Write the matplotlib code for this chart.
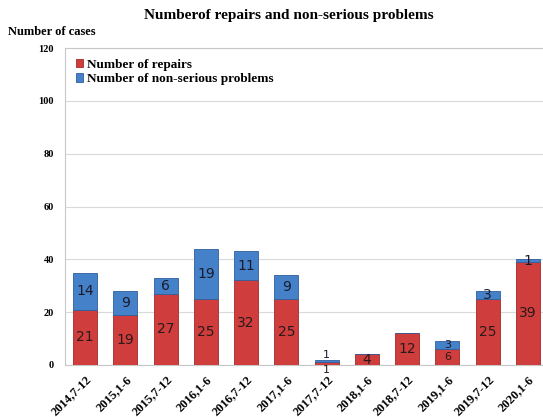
import matplotlib
matplotlib.use("Agg")
import matplotlib.pyplot as plt
import numpy as np

categories = ["2014,7-12", "2015,1-6", "2015,7-12", "2016,1-6", "2016,7-12", "2017,1-6",
              "2017,7-12", "2018,1-6", "2018,7-12", "2019,1-6", "2019,7-12", "2020,1-6"]
repairs = [21, 19, 27, 25, 32, 25, 1, 4, 12, 6, 25, 39]
non_serious = [14, 9, 6, 19, 11, 9, 1, 0, 0, 3, 3, 1]
yticks = [0, 20, 40, 60, 80, 100, 120]

serif = ["Liberation Serif", "DejaVu Serif"]
red = "#cf3d3d"
blue = "#4581c9"

fig = plt.figure(figsize=(5.43, 4.17), dpi=100)
ax = fig.add_axes([65/543, (417-365)/417, (548-65)/543, (365-48)/417])

x = np.arange(len(categories))
w = 0.6
ax.bar(x, repairs, w, color=red, edgecolor="#a52a2a", linewidth=0.6, label="Number of repairs", zorder=3)
ax.bar(x, non_serious, w, bottom=repairs, color=blue, edgecolor="#2f5f9e", linewidth=0.6,
       label="Number of non-serious problems", zorder=3)

for i in range(len(x)):
    total = repairs[i] + non_serious[i]
    fs = 8 if (total < 10 and non_serious[i] > 0) else 10
    if repairs[i] > 0:
        if total < 3:
            ax.text(x[i], 0, str(repairs[i]), ha="center", va="top",
                    fontsize=fs, color="#2a1a1a", family="DejaVu Sans", zorder=4)
        else:
            ax.text(x[i], repairs[i] / 2, str(repairs[i]), ha="center", va="center",
                    fontsize=fs, color="#2a1a1a", family="DejaVu Sans", zorder=4)
    if non_serious[i] > 0:
        if total < 3:
            ax.text(x[i], total, str(non_serious[i]), ha="center", va="bottom",
                    fontsize=fs, color="#1a1a2a", family="DejaVu Sans", zorder=4)
        else:
            ax.text(x[i], repairs[i] + non_serious[i] / 2, str(non_serious[i]), ha="center", va="center",
                    fontsize=fs, color="#1a1a2a", family="DejaVu Sans", zorder=4)

ax.set_xlim(-0.5, len(x) - 0.5)
ax.set_ylim(0, 120)
ax.set_yticks(yticks)
ax.set_yticklabels([str(t) for t in yticks], family=serif, fontweight="bold", fontsize=7.5)
ax.set_xticks(x)
ax.set_xticklabels(categories, rotation=45, ha="right", rotation_mode="anchor",
                   family=serif, fontweight="bold", fontsize=9)
ax.tick_params(axis="y", length=0, pad=8)
ax.tick_params(axis="x", length=0, pad=6)
ax.grid(axis="y", color="#d9d9d9", linewidth=0.8, zorder=0)
for s in ax.spines.values():
    s.set_color("#c8c8c8")
    s.set_linewidth(0.8)

ax.legend(loc="upper left", bbox_to_anchor=(0.0, 1.0), frameon=False,
          prop={"family": serif, "weight": "bold", "size": 9.5},
          handlelength=0.6, handleheight=0.6, handletextpad=0.3, labelspacing=0.2,
          borderaxespad=0.4)

fig.text(289/543, 1 - 16/417, "Numberof repairs and non-serious problems", ha="center", va="center",
         family=serif, fontweight="bold", fontsize=11)
fig.text(8/543, 1 - 32/417, "Number of cases", ha="left", va="center",
         family=serif, fontweight="bold", fontsize=9)

fig.savefig("out.png", dpi=100)
